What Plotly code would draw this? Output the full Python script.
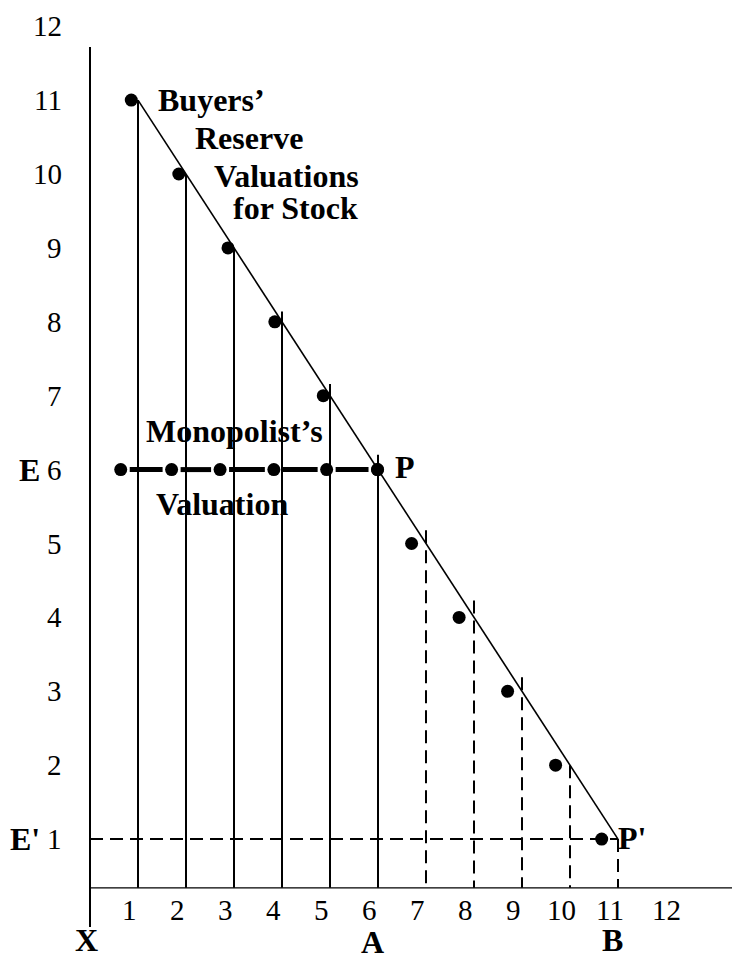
import plotly.graph_objects as go

# ---------------- data ----------------
quantities = [1, 2, 3, 4, 5, 6, 7, 8, 9, 10, 11]
reserve_values = [11, 10, 9, 8, 7, 6, 5, 4, 3, 2, 1]
# drawn x-positions of the buyer dots
buyer_dot_x = [0.86, 1.85, 2.875, 3.85, 4.86, 5.99, 6.70, 7.69, 8.70, 9.70, 10.66]
monopolist_dot_x = [0.64, 1.70, 2.71, 3.83, 4.93, 5.99]
monopolist_value = 6
competitive_price = 1
demand_start = (1, 11)
demand_end = (11, 1)
solid_q = [1, 2, 3, 4, 5, 6]
solid_top = [11, 10, 9, 8.14, 7.16, 6.2]
dashed_q = [7, 8, 9, 10, 11]
dashed_top = [5.18, 4.23, 3.19, 2.0, 1.0]
x_ticks = [1, 2, 3, 4, 5, 6, 7, 8, 9, 10, 11, 12]
y_ticks = [1, 2, 3, 4, 5, 6, 7, 8, 9, 10, 11, 12]

# ---------------- geometry ----------------
W, H = 732, 959
X0_PX, X_UNIT = 90, 48.0
Y0_PX, Y_UNIT = 913, 73.9
x_range = [-X0_PX / X_UNIT, (W - X0_PX) / X_UNIT]
y_range = [(Y0_PX - H) / Y_UNIT, Y0_PX / Y_UNIT]
AXIS_Y = 0.34
YAXIS_TOP, YAXIS_BOT = 11.72, -0.19

FONT = "Liberation Serif, Times New Roman, serif"
TICK_SIZE = 29
BOLD_SIZE = 32

fig = go.Figure()

def seg_trace(xs, ys, width, dash="solid", color="black"):
    fig.add_trace(go.Scatter(x=xs, y=ys, mode="lines",
                             line=dict(color=color, width=width, dash=dash),
                             hoverinfo="skip", showlegend=False))

# axes
seg_trace([0, 0], [YAXIS_BOT, YAXIS_TOP], 2)
seg_trace([0, x_range[1]], [AXIS_Y, AXIS_Y], 1.2)

# solid verticals
xs, ys = [], []
for q, t in zip(solid_q, solid_top):
    xs += [q, q, None]
    ys += [AXIS_Y, t, None]
seg_trace(xs, ys, 2)

# dashed verticals (drawn from top down)
xs, ys = [], []
for q, t in zip(dashed_q, dashed_top):
    xs += [q, q, None]
    ys += [t, AXIS_Y, None]
seg_trace(xs, ys, 2, dash="13px,7px")
# horizontal E' dashed line
seg_trace([0, quantities[-1]], [competitive_price, competitive_price], 2, dash="13px,7px")

# demand line
seg_trace([demand_start[0], demand_end[0]], [demand_start[1], demand_end[1]], 1.6)

# monopolist thick dashes between dots
gap = 9 / X_UNIT
xs, ys = [], []
for a, b in zip(monopolist_dot_x[:-1], monopolist_dot_x[1:]):
    xs += [a + gap, b - gap, None]
    ys += [monopolist_value, monopolist_value, None]
seg_trace(xs, ys, 5)

# dots
fig.add_trace(go.Scatter(x=buyer_dot_x, y=reserve_values, mode="markers",
                         marker=dict(color="black", size=13),
                         hoverinfo="skip", showlegend=False))
fig.add_trace(go.Scatter(x=monopolist_dot_x, y=[monopolist_value] * len(monopolist_dot_x),
                         mode="markers", marker=dict(color="black", size=13),
                         hoverinfo="skip", showlegend=False))

ann = []
# y tick labels (right aligned)
for v in y_ticks:
    ann.append(dict(x=-0.54, y=v, text=str(v), xanchor="right", yanchor="middle",
                    showarrow=False, font=dict(family=FONT, size=TICK_SIZE, color="black")))
# x tick labels
x_nudge = {12: 0.02}
for v in x_ticks:
    ann.append(dict(x=v + x_nudge.get(v, -0.17), y=0.04, text=str(v), xanchor="center",
                    yanchor="middle", showarrow=False,
                    font=dict(family=FONT, size=TICK_SIZE, color="black")))

def bold(text, x, y, xanchor="center"):
    ann.append(dict(x=x, y=y, text="<b>" + text + "</b>", xanchor=xanchor, yanchor="middle",
                    showarrow=False, borderpad=0,
                    font=dict(family=FONT, size=BOLD_SIZE, color="black")))

bold("Buyers’", 2.54, 11.0)
bold("Reserve", 3.31, 10.49)
bold("Valuations", 4.10, 9.97)
bold("for Stock", 4.29, 9.54)
bold("Monopolist’s", 3.02, 6.52)
bold("Valuation", 2.75, 5.53)
bold("P", 6.56, 6.03)
bold("P'", 11.29, 1.01)
bold("X", -0.08, -0.37)
bold("A", 5.875, -0.39)
bold("B", 10.875, -0.37)
bold("E", -1.27, 6.0)
bold("E'", -1.36, 1.0)

fig.update_layout(
    width=W, height=H,
    margin=dict(l=0, r=0, t=0, b=0),
    paper_bgcolor="white", plot_bgcolor="white",
    xaxis=dict(range=x_range, visible=False, fixedrange=True),
    yaxis=dict(range=y_range, visible=False, fixedrange=True),
    annotations=ann,
    showlegend=False,
)

fig.write_html(
    "out.html",
    config={"displayModeBar": False, "staticPlot": True},
    post_script="document.body.style.margin='0';document.body.style.padding='0';"
                "document.body.style.overflow='hidden';",
)
